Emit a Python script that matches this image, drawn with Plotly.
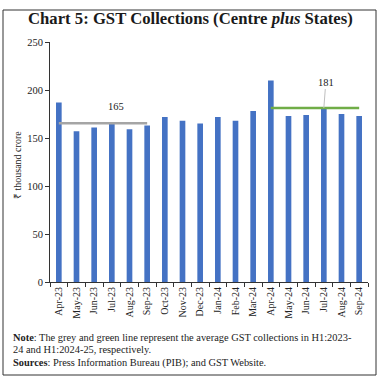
import plotly.graph_objects as go

months = ["Apr-23", "May-23", "Jun-23", "Jul-23", "Aug-23", "Sep-23", "Oct-23", "Nov-23", "Dec-23",
          "Jan-24", "Feb-24", "Mar-24", "Apr-24", "May-24", "Jun-24", "Jul-24", "Aug-24", "Sep-24"]
gst = [187, 157, 161, 165, 159, 163, 172, 168, 165, 172, 168, 178, 210, 173, 174, 182, 175, 173]
h1_2324 = months[0:6]
h1_2425 = months[12:18]
avg_2324 = sum(gst[0:6]) / 6
avg_2425 = sum(gst[12:18]) / 6
y_ticks = [0, 50, 100, 150, 200, 250]

FONT = "Liberation Serif"
L, R, T, B = 50, 12, 42, 98
W = H = 380
PW = W - L - R
PH = H - T - B

def px(xp):
    return (xp - L) / PW

def py(yp):
    return (H - B - yp) / PH

fig = go.Figure()
fig.add_trace(go.Bar(x=months, y=gst, marker_color="#4472C4", marker_line_width=0, showlegend=False))
fig.add_trace(go.Scatter(x=h1_2324, y=[avg_2324] * len(h1_2324), mode="lines",
                         line=dict(color="#A5A5A5", width=2.5), showlegend=False))
fig.add_trace(go.Scatter(x=h1_2425, y=[avg_2425] * len(h1_2425), mode="lines",
                         line=dict(color="#70AD47", width=2.5), showlegend=False))

fig.update_layout(
    width=W, height=H,
    margin=dict(l=L, r=R, t=T, b=B),
    paper_bgcolor="white", plot_bgcolor="white",
    bargap=0.68,
    font=dict(family=FONT, size=10, color="#222"),
    xaxis=dict(type="category", showline=True, linecolor="#333", linewidth=1,
               ticks="outside", tickson="boundaries", ticklen=4, tickcolor="#333",
               tickangle=-90, tickfont=dict(size=10, family=FONT, color="#222"),
               showgrid=False),
    yaxis=dict(range=[0, 250], tickvals=y_ticks, showline=True, linecolor="#333", linewidth=1,
               ticks="outside", ticklen=4, tickcolor="#333", showgrid=False, zeroline=False,
               tickfont=dict(size=10.5, family=FONT, color="#222")),
)

fig.add_annotation(xref="paper", yref="paper", x=px(17), y=py(165), text="₹ thousand crore",
                   textangle=-90, showarrow=False, xanchor="center", yanchor="middle",
                   font=dict(size=10, family=FONT, color="#222"))

fig.add_annotation(x=3.25, y=avg_2324, text=f"{avg_2324:.0f}", showarrow=False, yshift=17,
                   font=dict(size=10.5, family=FONT, color="#222"))
fig.add_annotation(x=h1_2425[3], y=avg_2425, text=f"{avg_2425:.0f}", showarrow=True, arrowhead=0,
                   arrowwidth=1, arrowcolor="#BFBFBF", ax=2, ay=-26,
                   font=dict(size=10.5, family=FONT, color="#222"))

fig.add_annotation(xref="paper", yref="paper", x=px(190), y=py(19), text="<b>Chart 5: GST Collections (Centre <i>plus</i> States)</b>",
                   showarrow=False, xanchor="center", yanchor="middle",
                   font=dict(size=16.7, family=FONT, color="#1a1a1a"))
notes = [
    (337, "<b>Note</b>: The grey and green line represent the average GST collections in H1:2023-"),
    (349, "24 and H1:2024-25, respectively."),
    (363, "<b>Sources</b>: Press Information Bureau (PIB); and GST Website."),
]
for yp, t in notes:
    fig.add_annotation(xref="paper", yref="paper", x=px(11), y=py(yp), text=t, showarrow=False,
                       xanchor="left", yanchor="middle", font=dict(size=10.4, family=FONT, color="#222"))

fig.add_shape(type="rect", xref="paper", yref="paper", x0=px(3), x1=px(376), y0=py(375), y1=py(10),
              line=dict(color="#333", width=1), fillcolor="rgba(0,0,0,0)")

fig.write_html("out.html", config={"displayModeBar": False},
               post_script="document.body.style.margin='0';document.body.style.overflow='hidden';")
